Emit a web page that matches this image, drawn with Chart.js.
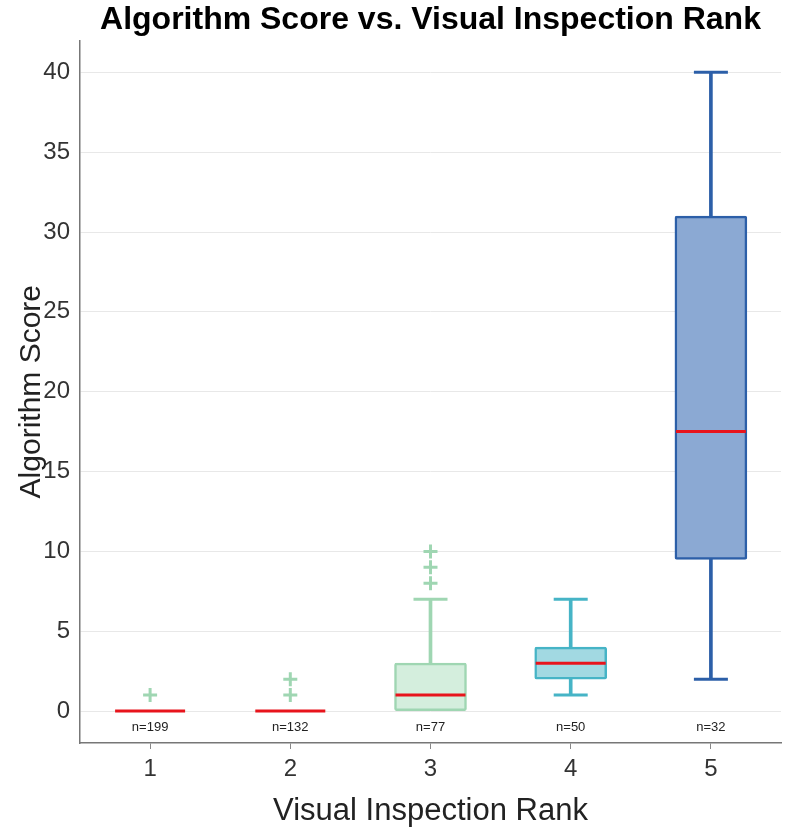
<!DOCTYPE html>
<html>
<head>
<meta charset="utf-8">
<script src="https://cdn.jsdelivr.net/npm/chart.js@4"></script>
<style>
  html, body { margin: 0; padding: 0; background: #fff; }
  #wrap { width: 789px; height: 830px; }
</style>
</head>
<body>
<div id="wrap"><canvas id="boxChart" width="789" height="830"></canvas></div>
<script>
// box plot summary per visual inspection rank
const ranks = ['1', '2', '3', '4', '5'];
const whiskerMin = [0, 0, 0, 1, 2];
const q1 = [0, 0, 0, 2, 9.5];
const median = [0, 0, 1, 3, 17.5];
const q3 = [0, 0, 3, 4, 31];
const whiskerMax = [0, 0, 7, 7, 40];
const counts = [199, 132, 77, 50, 32];

// outliers ("+" markers)
const outlierRanks = ['1', '2', '2', '3', '3', '3'];
const outlierValues = [1, 1, 2, 8, 9, 10];

const yTicks = [0, 5, 10, 15, 20, 25, 30, 35, 40];

const strokeColors = ['#9fd6b2', '#9fd6b2', '#9fd6b2', '#46b4c6', '#2c5fa8'];
const fillColors = ['#d4eedd', '#d4eedd', '#d4eedd', '#a2d9e2', '#8ba9d3'];
const medianColor = '#e8141c';

const FONT = "'Liberation Sans', Arial, sans-serif";

const stemData = ranks.map((r, i) => [whiskerMin[i], whiskerMax[i]]);
const boxData = ranks.map((r, i) => [q1[i], q3[i]]);

const capData = [];
const capColors = [];
ranks.forEach((r, i) => {
  if (whiskerMin[i] < q1[i]) { capData.push({ x: r, y: whiskerMin[i] }); capColors.push(strokeColors[i]); }
  if (whiskerMax[i] > q3[i]) { capData.push({ x: r, y: whiskerMax[i] }); capColors.push(strokeColors[i]); }
});

const medianData = ranks.map((r, i) => ({ x: r, y: median[i] }));
const outlierData = outlierRanks.map((r, i) => ({ x: r, y: outlierValues[i] }));
const outlierColors = outlierRanks.map(r => strokeColors[ranks.indexOf(r)]);

// "n=..." labels under each box
const countLabels = {
  id: 'countLabels',
  afterDatasetsDraw(chart) {
    const { ctx, scales: { x, y } } = chart;
    ctx.save();
    ctx.font = '13px ' + FONT;
    ctx.fillStyle = '#222';
    ctx.textAlign = 'center';
    ctx.textBaseline = 'middle';
    counts.forEach((n, i) => {
      ctx.fillText('n=' + n, x.getPixelForValue(i), y.getPixelForValue(-1));
    });
    ctx.restore();
  }
};

new Chart(document.getElementById('boxChart'), {
  type: 'bar',
  data: {
    labels: ranks,
    datasets: [
      {
        label: 'whisker',
        data: stemData,
        backgroundColor: strokeColors,
        borderWidth: 0,
        barThickness: 3,
        grouped: false,
        order: 5
      },
      {
        label: 'box',
        data: boxData,
        backgroundColor: fillColors,
        borderColor: strokeColors,
        borderWidth: ranks.map((r, i) => q3[i] > q1[i] ? 2.5 : 0),
        borderSkipped: false,
        borderRadius: 2,
        barThickness: 72,
        grouped: false,
        order: 4
      },
      {
        type: 'line',
        label: 'caps',
        data: capData,
        showLine: false,
        pointStyle: 'line',
        pointRadius: 17,
        pointBorderWidth: 3,
        pointBorderColor: capColors,
        order: 3
      },
      {
        type: 'line',
        label: 'outliers',
        data: outlierData,
        showLine: false,
        pointStyle: 'cross',
        pointRadius: 7,
        pointBorderWidth: 3,
        pointBorderColor: outlierColors,
        order: 2
      },
      {
        type: 'line',
        label: 'median',
        data: medianData,
        showLine: false,
        pointStyle: 'line',
        pointRadius: 35,
        pointBorderWidth: 3,
        pointBorderColor: medianColor,
        order: 1
      }
    ]
  },
  options: {
    responsive: false,
    animation: false,
    events: [],
    // autoPadding off: the wide median markers would otherwise shrink the plot
    layout: { autoPadding: false, padding: { left: 0, right: 8, top: 0, bottom: 0 } },
    plugins: {
      legend: { display: false },
      tooltip: { enabled: false },
      title: {
        display: true,
        fullSize: false,
        text: 'Algorithm Score vs. Visual Inspection Rank',
        color: '#000',
        font: { family: FONT, size: 32, weight: 'bold' },
        padding: { top: 1, bottom: 1 }
      }
    },
    scales: {
      x: {
        type: 'category',
        offset: true,
        afterFit(scale) { scale.height = 87; },
        grid: { offset: false, drawOnChartArea: false, drawTicks: true, tickLength: 6, tickColor: '#888' },
        border: { display: true, color: '#777', width: 1.5 },
        ticks: { color: '#333', font: { family: FONT, size: 24 }, padding: 6 },
        title: {
          display: true,
          text: 'Visual Inspection Rank',
          color: '#222',
          font: { family: FONT, size: 31 },
          padding: { top: 0, bottom: 0 }
        }
      },
      y: {
        min: -2,
        max: 42,
        afterFit(scale) { scale.width = 80; },
        afterBuildTicks(scale) { scale.ticks = yTicks.map(v => ({ value: v })); },
        grid: { color: '#e8e8e8', lineWidth: 1, drawTicks: false },
        border: { display: true, color: '#777', width: 1.5 },
        ticks: { color: '#333', font: { family: FONT, size: 24 }, padding: 10 },
        title: {
          display: true,
          text: 'Algorithm Score',
          color: '#222',
          font: { family: FONT, size: 30 },
          padding: { top: 14, bottom: 0 }
        }
      }
    }
  },
  plugins: [countLabels]
});
</script>
</body>
</html>
